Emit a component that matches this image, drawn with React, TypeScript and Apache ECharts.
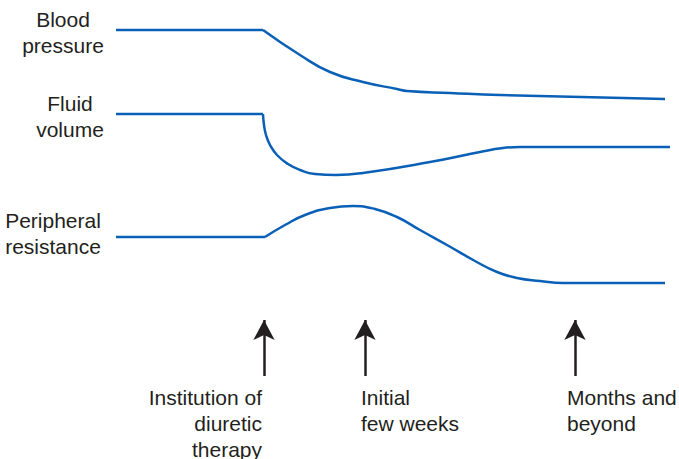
import React, { useEffect, useRef } from "react";
import * as echarts from "echarts";

// time units (px-like scale from start of traces), level units (vertical position, inverted)
const bpBaseline = [[0, 30], [147, 30]];
const bpResponse = [[147, 30], [184, 55], [214, 72], [247, 82], [281, 89], [291, 91], [334, 93], [384, 95], [549, 99]];
const fvBaseline = [[0, 114], [147, 114]];
const fvResponse = [[147, 114], [148, 125], [150, 135], [154, 145], [161, 155], [172, 164], [184, 170], [199, 174], [220, 175], [247, 173], [314, 162], [364, 152], [387, 148], [404, 147], [554, 147]];
const prBaseline = [[0, 237], [149, 237]];
const prResponse = [[149, 237], [169, 225], [189, 215], [214, 208], [237, 206], [259, 209], [281, 217], [304, 230], [331, 245], [359, 261], [381, 272], [401, 278], [424, 281], [447, 283], [549, 283]];

const eventTimes = [148, 249, 459];
const arrowBottom = 376;
const arrowTop = 320;

const seriesLabels = ["Blood\npressure", "Fluid\nvolume", "Peripheral\nresistance"];
const eventLabels = ["Institution of\ndiuretic\ntherapy", "Initial\nfew weeks", "Months and\nbeyond"];

const BLUE = "#0a60b6";
const INK = "#231f20";
const FONT = "'Liberation Sans', Arial, Helvetica, sans-serif";

export default function App() {
  const ref = useRef<HTMLDivElement>(null);
  useEffect(() => {
    document.body.style.margin = "0";
    const chart = echarts.init(ref.current!, null, { renderer: "svg" });
    const lineSeries = (data: number[][], smooth: boolean | number) => ({
      type: "line",
      data,
      smooth,
      showSymbol: false,
      symbol: "none",
      lineStyle: { color: BLUE, width: 2.5 },
      silent: true,
    });
    const textStyle = { fill: INK, fontSize: 21, fontFamily: FONT, lineHeight: 26 };
    chart.setOption({
      animation: false,
      grid: { left: 116, width: 560, top: 0, height: 459 },
      xAxis: { type: "value", min: 0, max: 560, show: false },
      yAxis: { type: "value", min: 0, max: 459, inverse: true, show: false },
      series: [
        lineSeries(bpBaseline, false),
        lineSeries(bpResponse, 0.5),
        lineSeries(fvBaseline, false),
        lineSeries(fvResponse, 0.5),
        lineSeries(prBaseline, false),
        {
          ...lineSeries(prResponse, 0.5),
          markLine: {
            silent: true,
            symbol: ["none", "arrow"],
            symbolSize: [16, 20],
            label: { show: false },
            lineStyle: { color: INK, width: 2.5, type: "solid" },
            data: eventTimes.map((t) => [
              { coord: [t, arrowBottom] },
              { coord: [t, arrowTop] },
            ]),
          },
        },
      ],
      graphic: [
        { type: "text", x: 63, y: 6, style: { ...textStyle, text: seriesLabels[0], textAlign: "center", textVerticalAlign: "top" } },
        { type: "text", x: 70, y: 90, style: { ...textStyle, text: seriesLabels[1], textAlign: "center", textVerticalAlign: "top" } },
        { type: "text", x: 53, y: 207, style: { ...textStyle, text: seriesLabels[2], textAlign: "center", textVerticalAlign: "top" } },
        { type: "text", x: 262, y: 384, style: { ...textStyle, text: eventLabels[0], textAlign: "right", textVerticalAlign: "top" } },
        { type: "text", x: 361, y: 384, style: { ...textStyle, text: eventLabels[1], textAlign: "left", textVerticalAlign: "top" } },
        { type: "text", x: 567, y: 384, style: { ...textStyle, text: eventLabels[2], textAlign: "left", textVerticalAlign: "top" } },
      ],
    });
    return () => chart.dispose();
  }, []);
  return <div ref={ref} style={{ width: 679, height: 459 }} />;
}
